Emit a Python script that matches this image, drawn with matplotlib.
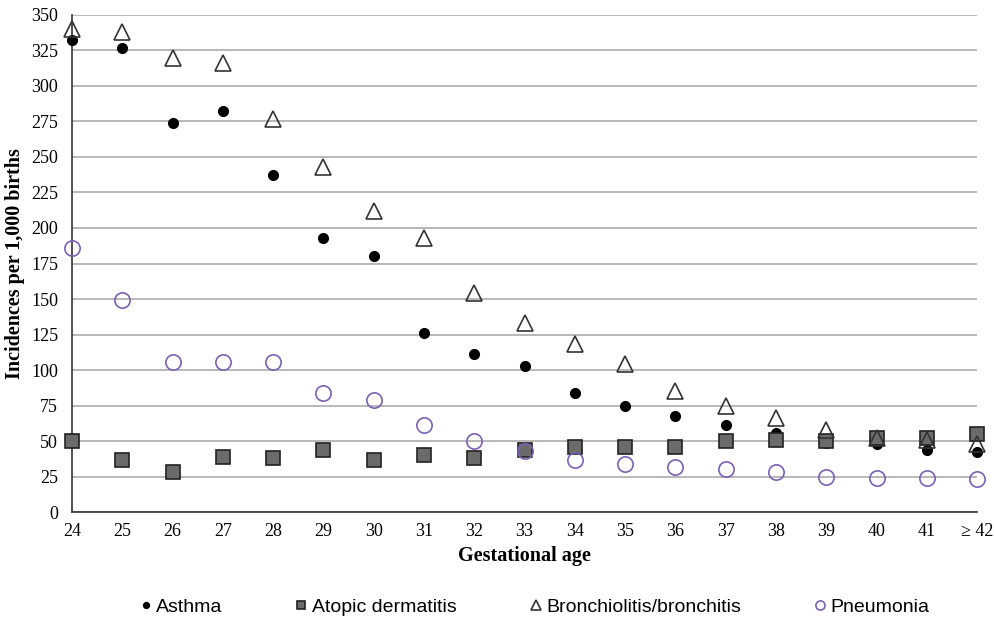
import matplotlib
matplotlib.use('Agg')
import matplotlib.pyplot as plt

ages = ['24', '25', '26', '27', '28', '29', '30', '31', '32', '33', '34', '35', '36', '37', '38', '39', '40', '41', '≥ 42']
asthma = [332, 327, 274, 282, 237, 193, 180, 126, 111, 103, 84, 75, 68, 61, 56, 49, 48, 44, 42]
atopic = [50, 37, 28, 39, 38, 44, 37, 40, 38, 44, 46, 46, 46, 50, 51, 50, 52, 52, 55]
bronch = [340, 338, 320, 316, 277, 243, 212, 193, 154, 133, 118, 104, 85, 75, 66, 58, 52, 51, 48]
pneumonia = [186, 149, 106, 106, 106, 84, 79, 61, 50, 43, 37, 34, 32, 30, 28, 25, 24, 24, 23]
yticks = list(range(0, 351, 25))

serif = ['Liberation Serif', 'DejaVu Serif']
sans = ['Liberation Sans', 'DejaVu Sans']

fig = plt.figure(figsize=(9.94, 6.2), dpi=100)
ax = fig.add_axes([0.0724, 0.174, 0.9106, 0.802])
x = list(range(len(ages)))

ax.plot(x, asthma, 'o', ms=7, color='black', mec='black', label='Asthma', clip_on=False, zorder=3)
ax.plot(x, atopic, 's', ms=10, color='#6b6b6b', mec='#222222', mew=1.2, label='Atopic dermatitis', clip_on=False, zorder=3)
ax.plot(x, bronch, '^', ms=11, color='white', mfc='none', mec='#333333', mew=1.2, label='Bronchiolitis/bronchitis', clip_on=False, zorder=4)
ax.plot(x, pneumonia, 'o', ms=11, color='white', mfc='none', mec='#7b60b5', mew=1.2, label='Pneumonia', clip_on=False, zorder=4)

ax.set_xlim(0, len(ages) - 1)
ax.set_ylim(0, 350)
ax.set_yticks(yticks)
ax.set_xticks(x)
ax.set_xticklabels(ages, family=serif, fontsize=13)
for lab in ax.get_yticklabels():
    lab.set_family(serif)
    lab.set_fontsize(13)
ax.tick_params(axis='y', length=0, pad=10)
ax.tick_params(axis='x', length=0, pad=8)
ax.yaxis.grid(True, color='#ababab', lw=1.2)
ax.set_axisbelow(True)
for s in ['top', 'right']:
    ax.spines[s].set_visible(False)
ax.spines['left'].set_color('#333333')
ax.spines['bottom'].set_color('#333333')
ax.spines['left'].set_linewidth(1.2)
ax.spines['bottom'].set_linewidth(1.2)

ax.set_xlabel('Gestational age', family=serif, fontsize=14.5, fontweight='bold', labelpad=4)
ax.set_ylabel('Incidences per 1,000 births', family=serif, fontsize=14.5, fontweight='bold', labelpad=4)

leg = fig.legend(loc='center', bbox_to_anchor=(0.538, 0.021), ncol=4, frameon=False,
                 prop={'family': sans, 'size': 14}, columnspacing=3.75, handletextpad=0.25,
                 markerscale=0.6, handlelength=0.6)

fig.savefig('out.png', dpi=100)
